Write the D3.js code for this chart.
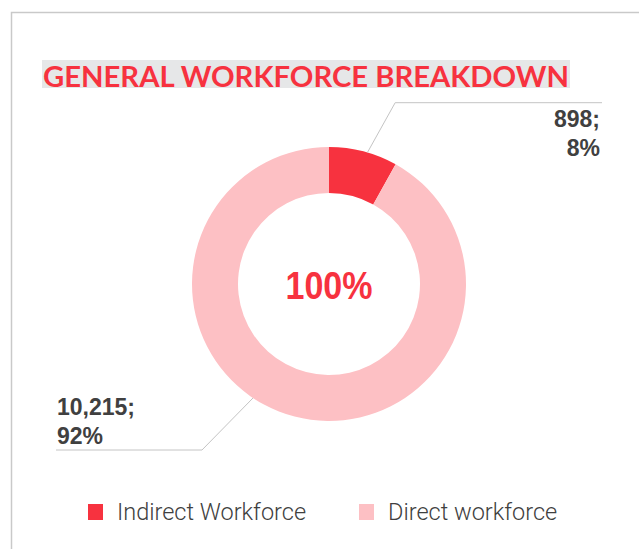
<!DOCTYPE html>
<html>
<head>
<meta charset="utf-8">
<script src="https://cdn.jsdelivr.net/npm/d3@7"></script>
<style>
  html, body { margin: 0; padding: 0; background: #fff; }
  svg { display: block; }
</style>
</head>
<body>
<div id="chart"></div>
<script>
const CATEGORIES = ["Indirect Workforce", "Direct workforce"]
const VALUES = [898, 10215]
const VALUE_LABELS = ["898;", "10,215;"]
const PCT_LABELS = ["8%", "92%"]
const COLORS = ["#f7323f", "#fdc0c4"]
const TITLE = "GENERAL WORKFORCE BREAKDOWN"
const CENTER_TEXT = "100%"

const width = 639, height = 549
const cx = 329, cy = 284
const outerR = 137, innerR = 91

const svg = d3.select("#chart").append("svg")
  .attr("width", width).attr("height", height)

// frame (open on right and bottom)
svg.append("path")
  .attr("d", `M11.5,${height} L11.5,12.5 L${width},12.5`)
  .attr("fill", "none").attr("stroke", "#c9c9c9").attr("stroke-width", 1.5)

// title with grey highlight
svg.append("rect")
  .attr("x", 42).attr("y", 60).attr("width", 528).attr("height", 28)
  .attr("fill", "#e6e7e8")
svg.append("text")
  .attr("x", 43).attr("y", 87)
  .attr("font-family", "Lato, Roboto, sans-serif")
  .attr("font-weight", 700).attr("font-size", 29)
  .attr("fill", "#f7323f")
  .attr("textLength", 526).attr("lengthAdjust", "spacingAndGlyphs")
  .text(TITLE)

// donut
const pie = d3.pie().sort(null).value(d => d)
const arcs = pie(VALUES)
const arc = d3.arc().innerRadius(innerR).outerRadius(outerR)
const color = d3.scaleOrdinal().domain(CATEGORIES).range(COLORS)

const g = svg.append("g").attr("transform", `translate(${cx},${cy})`)
g.selectAll("path.slice").data(arcs).enter().append("path")
  .attr("class", "slice")
  .attr("d", arc)
  .attr("fill", (d, i) => color(CATEGORIES[i]))

g.append("text")
  .attr("x", 0).attr("y", 15)
  .attr("text-anchor", "middle")
  .attr("font-family", "'Liberation Sans', Arial, sans-serif")
  .attr("font-weight", 700).attr("font-size", 38)
  .attr("fill", "#f7323f")
  .attr("textLength", 87).attr("lengthAdjust", "spacingAndGlyphs")
  .text(CENTER_TEXT)

// leader lines + labels (layout per slice)
const leaders = [
  { angle: arcs[0].startAngle + (arcs[0].endAngle - arcs[0].startAngle) * 0.56, elbowR: 193, elbowAngle: 0.35, endX: 602, anchor: "end", tx: 600, ty: 127 },
  { angle: Math.PI + 0.588, elbowR: 0, elbowX: 202, elbowY: 450, endX: 56, anchor: "start", tx: 57, ty: 415 }
]

leaders.forEach((L, i) => {
  const sx = cx + outerR * Math.sin(L.angle)
  const sy = cy - outerR * Math.cos(L.angle)
  let ex, ey
  if (L.elbowR) {
    ex = cx + L.elbowR * Math.sin(L.elbowAngle)
    ey = cy - L.elbowR * Math.cos(L.elbowAngle)
  } else {
    ex = L.elbowX; ey = L.elbowY
  }
  svg.append("polyline")
    .attr("points", [[sx, sy], [ex, ey], [L.endX, ey]].map(p => p.join(",")).join(" "))
    .attr("fill", "none").attr("stroke", "#c4c4c4").attr("stroke-width", 1)

  const t = svg.append("text")
    .attr("text-anchor", L.anchor)
    .attr("font-family", "'Liberation Sans', Arial, sans-serif")
    .attr("font-weight", 700).attr("font-size", 23)
    .attr("fill", "#404040")
  t.append("tspan").attr("x", L.tx).attr("y", L.ty).text(VALUE_LABELS[i])
  t.append("tspan").attr("x", L.tx).attr("y", L.ty + 29).text(PCT_LABELS[i])
})

// legend
const legendX = [88, 359]
const legend = svg.append("g")
CATEGORIES.forEach((c, i) => {
  legend.append("rect")
    .attr("x", legendX[i]).attr("y", 504)
    .attr("width", 15).attr("height", 16)
    .attr("fill", color(c))
  legend.append("text")
    .attr("x", legendX[i] + 29).attr("y", 520)
    .attr("font-family", "Roboto, 'Liberation Sans', sans-serif")
    .attr("font-weight", 300).attr("font-size", 23.5)
    .attr("fill", "#404040")
    .text(c)
})
</script>
</body>
</html>
